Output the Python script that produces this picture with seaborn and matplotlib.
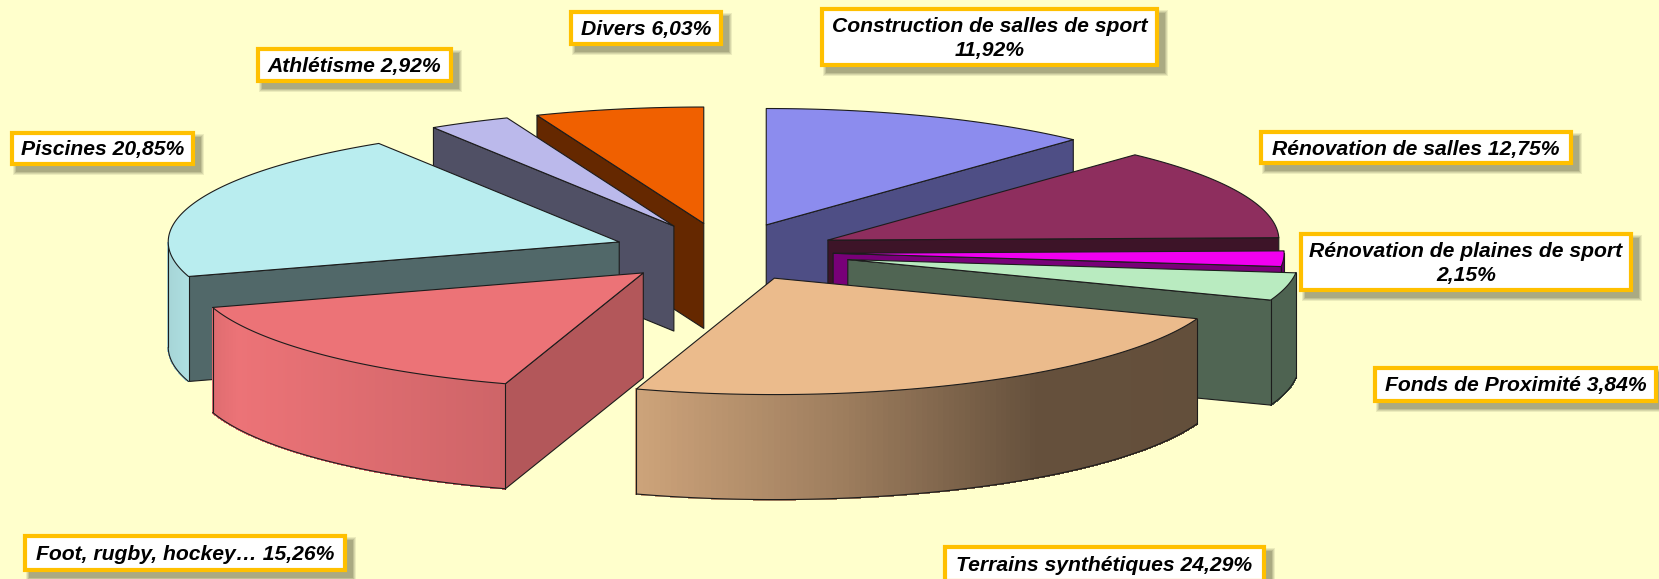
import numpy as np
import matplotlib
matplotlib.use("Agg")
import matplotlib.pyplot as plt
from matplotlib.colors import to_rgb
from matplotlib.patches import Polygon, Rectangle
import seaborn as sns

# ---- data
categories = ["Construction de salles de sport", "Rénovation de salles",
              "Rénovation de plaines de sport", "Fonds de Proximité",
              "Terrains synthétiques", "Foot, rugby, hockey…", "Piscines",
              "Athlétisme", "Divers"]
values = [11.92, 12.75, 2.15, 3.84, 24.29, 15.26, 20.85, 2.92, 6.03]
explode = [0.25, 0.25, 0.24, 0.28, 0.25, 0.255, 0.25, 0.25, 0.25]
colors = ["#8C8CEE", "#8E2E5E", "#F000F0", "#B9EBC0", "#EBBB8C", "#EC7377",
          "#B9EDEF", "#BBB9EB", "#F06000"]
side_shade = [0.56, 0.43, 0.5, 0.43, 0.43, 0.76, 0.44, 0.43, 0.42]
label_texts = ["Construction de salles de sport\n11,92%", "Rénovation de salles 12,75%",
               "Rénovation de plaines de sport\n2,15%", "Fonds de Proximité 3,84%",
               "Terrains synthétiques 24,29%", "Foot, rugby, hockey… 15,26%",
               "Piscines 20,85%", "Athlétisme 2,92%", "Divers 6,03%"]
label_boxes = [(820, 7, 1159, 67), (1259, 130, 1573, 165), (1299, 232, 1633, 292),
               (1373, 366, 1658, 403), (943, 545, 1266, 583), (23, 534, 347, 572),
               (10, 131, 195, 166), (256, 47, 453, 83), (569, 10, 723, 46)]
draw_order = [8, 7, 0, 6, 1, 2, 3, 5, 4]

# ---- geometry of the projected pie (figure pixels)
CX, CY, RX, RY, DEPTH = 725, 252, 451, 116.4, 105
BG = "#FFFFCC"

sns.set_theme(style="white")
plt.rcParams["font.family"] = ["Liberation Sans", "DejaVu Sans"]
palette = sns.color_palette(colors)

fig = plt.figure(figsize=(16.59, 5.79), dpi=100, facecolor=BG)
ax = fig.add_axes([0, 0, 1, 1], facecolor=BG)
ax.set_xlim(0, 1659)
ax.set_ylim(579, 0)
ax.axis("off")

fr = np.array(values) / np.sum(values)
ends = np.cumsum(fr) * 2 * np.pi
starts = ends - fr * 2 * np.pi


def rim_shade(s):
    return np.interp(s, [-1.0, -0.9, -0.3, 0.15, 0.58, 1.0],
                     [0.9, 1.0, 0.87, 0.67, 0.43, 0.42])


def scaled(col, f):
    return tuple(np.clip(np.array(to_rgb(col)) * f, 0, 1))


EDGE = dict(edgecolor="#1c1c1c", linewidth=0.8, joinstyle="round")

for z, i in enumerate(draw_order):
    a0, a1 = starts[i], ends[i]
    mid = (a0 + a1) / 2
    cx = CX + explode[i] * RX * np.sin(mid)
    cy = CY - explode[i] * RY * np.cos(mid)
    col = palette[i]
    t = np.linspace(a0, a1, 120)
    px = cx + RX * np.sin(t)
    py = cy - RY * np.cos(t)
    base = z * 10 + 2

    # radial side faces that look at the viewer
    for ang, vis in ((a1, 0 < a1 < np.pi), (a0, np.pi < a0 < 2 * np.pi)):
        if vis:
            ex, ey = cx + RX * np.sin(ang), cy - RY * np.cos(ang)
            ax.add_patch(Polygon([(cx, cy), (ex, ey), (ex, ey + DEPTH), (cx, cy + DEPTH)],
                                 closed=True, facecolor=scaled(col, side_shade[i]),
                                 zorder=base, **EDGE))
    # outer rim, shaded by direction
    m = (np.cos(t) <= 0)
    if m.sum() > 1:
        rx_, ry_, rt = px[m], py[m], t[m]
        for k in range(len(rx_) - 1):
            c = scaled(col, rim_shade(np.sin((rt[k] + rt[k + 1]) / 2)))
            ax.add_patch(Polygon([(rx_[k], ry_[k]), (rx_[k + 1], ry_[k + 1]),
                                  (rx_[k + 1], ry_[k + 1] + DEPTH), (rx_[k], ry_[k] + DEPTH)],
                                 closed=True, facecolor=c, edgecolor=c, linewidth=0.8,
                                 antialiased=False, zorder=base + 1))
        ax.plot(rx_, ry_ + DEPTH, color="#1c1c1c", lw=0.8, zorder=base + 2)
        for k in (0, -1):
            ax.plot([rx_[k], rx_[k]], [ry_[k], ry_[k] + DEPTH], color="#1c1c1c", lw=0.8,
                    zorder=base + 2)
    # top face
    ax.add_patch(Polygon(np.column_stack([np.r_[cx, px], np.r_[cy, py]]), closed=True,
                         facecolor=col, zorder=base + 3, **EDGE))

# ---- labels
for txt, (x0, y0, x1, y1) in zip(label_texts, label_boxes):
    for g, a in zip([3, 2, 1, 0], [0.10, 0.12, 0.15, 0.18]):
        ax.add_patch(Rectangle((x0 + 6 - g, y0 + 6 - g), x1 - x0 + 2 * g, y1 - y0 + 2 * g,
                               facecolor="#45452a", edgecolor="none", alpha=a, zorder=200))
    ax.add_patch(Rectangle((x0 + 2, y0 + 2), x1 - x0 - 4, y1 - y0 - 4, facecolor="white",
                           edgecolor="#FFC000", linewidth=3.0, zorder=201))
    ax.text((x0 + x1) / 2, (y0 + y1) / 2 + 1.5, txt, ha="center", va="center", fontsize=15.2,
            fontweight="bold", fontstyle="italic", color="black", linespacing=1.35, zorder=202)

fig.savefig("out.png", dpi=100, facecolor=BG)
